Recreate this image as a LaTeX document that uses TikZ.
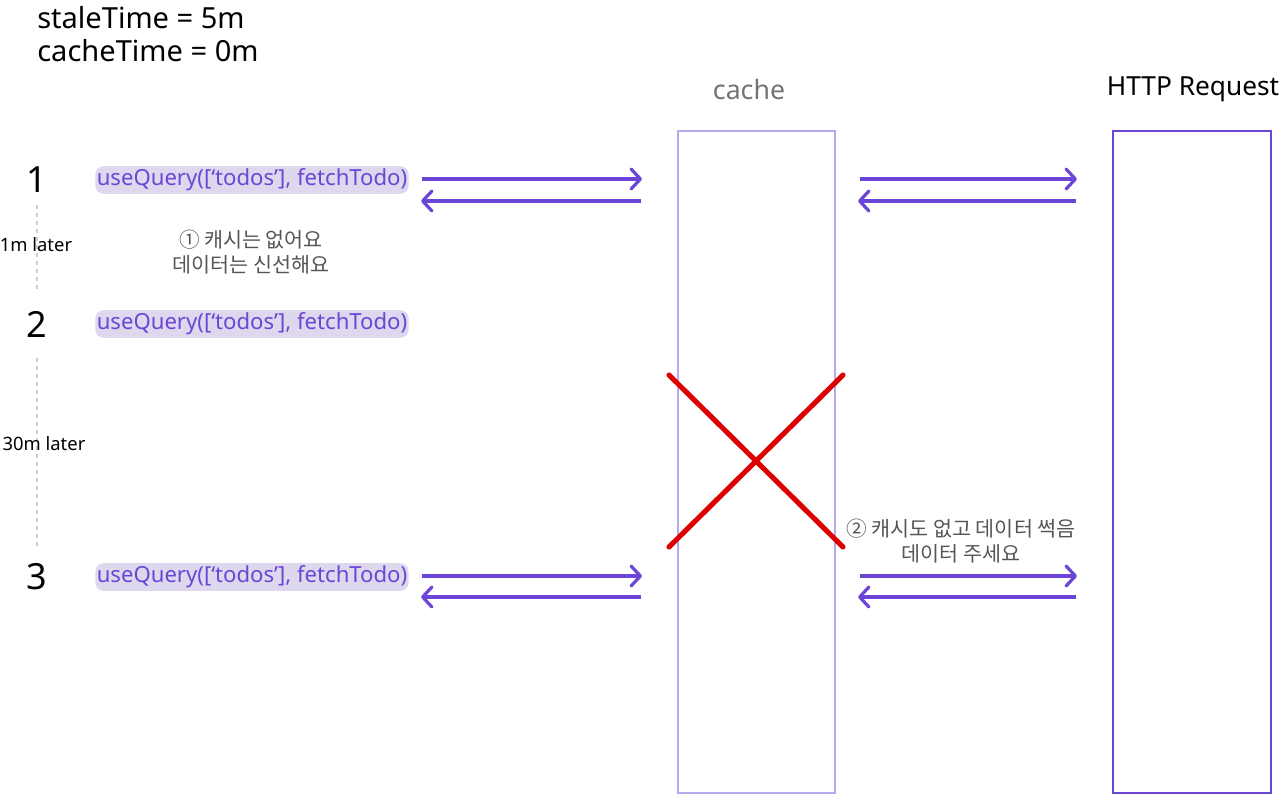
\documentclass[tikz,border=0pt]{standalone}
\usepackage{fontspec}
\setmainfont{Noto Sans}
\newfontfamily\kr{Noto Sans CJK KR}
\usetikzlibrary{arrows.meta}
\definecolor{purp}{HTML}{6B46D6}
\definecolor{lightpurp}{HTML}{B9A8EE}
\definecolor{pillbg}{HTML}{DED8EF}
\definecolor{xred}{HTML}{DD0000}
\definecolor{graytxt}{HTML}{555555}
\tikzset{
  flow/.style={draw=purp, line width=2.4pt, -{Straight Barb[length=7pt,width=15pt,round]}},
  pill/.style={fill=pillbg, rounded corners=6pt, text=purp, inner xsep=1pt, inner ysep=2pt,
    font=\fontsize{16.6}{19}\selectfont},
  stepnum/.style={font=\fontsize{27}{30}\selectfont},
  later/.style={font=\fontsize{13.8}{16}\selectfont},
  note/.style={text=graytxt, align=center, font=\kr\fontsize{15.5}{18.75}\selectfont},
  timeline/.style={draw=black!20, line width=1.1pt, dash pattern=on 3pt off 3pt},
  cross/.style={draw=xred, line width=3.8pt, line cap=round},
  column/.style={draw=#1, line width=1.5pt, minimum width=118pt, minimum height=496.5pt, inner sep=0pt},
}
\begin{document}
\begin{tikzpicture}[x=0.75pt,y=-0.75pt]
\useasboundingbox (0,0) rectangle (1280,794);
% header text
\node[anchor=west, font=\fontsize{21.8}{25}\selectfont, align=left, inner sep=0pt] (params) at (37,34)
  {staleTime = 5m\\cacheTime = 0m};
% column titles
\node[text=black!55, font=\fontsize{20}{24}\selectfont] (cachetitle) at (749,89) {cache};
\node[font=\fontsize{19.7}{24}\selectfont] (httptitle) at (1193,89) {HTTP Request};
% boxes
\node[column=lightpurp] (cachebox) at (756.5,462) {};
\node[column=purp] (httpbox) at (1192,462) {};
% timeline
\draw[timeline] (37,205) -- (37,291);
\draw[timeline] (37,358) -- (37,546);
% step numbers
\node[stepnum] (n1) at (37,180) {1};
\node[stepnum] (n2) at (37,324) {2};
\node[stepnum] (n3) at (37,577) {3};
\node[later] (l1) at (36,245) {1m later};
\node[later] (l2) at (44,444) {30m later};
% pills
\node[pill] (q1) at (252,180) {useQuery([‘todos’], fetchTodo)};
\node[pill] (q2) at (252,324) {useQuery([‘todos’], fetchTodo)};
\node[pill] (q3) at (252,577) {useQuery([‘todos’], fetchTodo)};
% arrow endpoints
\coordinate (a1s) at (422,179); \coordinate (a1e) at (642,179);
\coordinate (b1s) at (641,201); \coordinate (b1e) at (421,201);
\coordinate (c1s) at (860,179); \coordinate (c1e) at (1077,179);
\coordinate (d1s) at (1076,201); \coordinate (d1e) at (858,201);
\coordinate (a3s) at (422,576); \coordinate (a3e) at (642,576);
\coordinate (b3s) at (641,597); \coordinate (b3e) at (421,597);
\coordinate (c3s) at (860,576); \coordinate (c3e) at (1077,576);
\coordinate (d3s) at (1076,597); \coordinate (d3e) at (858,597);
\draw[flow] (a1s) -- (a1e);
\draw[flow] (b1s) -- (b1e);
\draw[flow] (c1s) -- (c1e);
\draw[flow] (d1s) -- (d1e);
\draw[flow] (a3s) -- (a3e);
\draw[flow] (b3s) -- (b3e);
\draw[flow] (c3s) -- (c3e);
\draw[flow] (d3s) -- (d3e);
% notes
\node[note] (note1) at (251,252) {① 캐시는 없어요\\데이터는 신선해요};
\node[note] (note2) at (961,541) {② 캐시도 없고 데이터 썩음\\데이터 주세요};
% red cross
\coordinate (x1) at (669,375); \coordinate (x2) at (843,547);
\coordinate (x3) at (843,375); \coordinate (x4) at (669,547);
\draw[cross] (x1) -- (x2);
\draw[cross] (x3) -- (x4);
\end{tikzpicture}
\end{document}
